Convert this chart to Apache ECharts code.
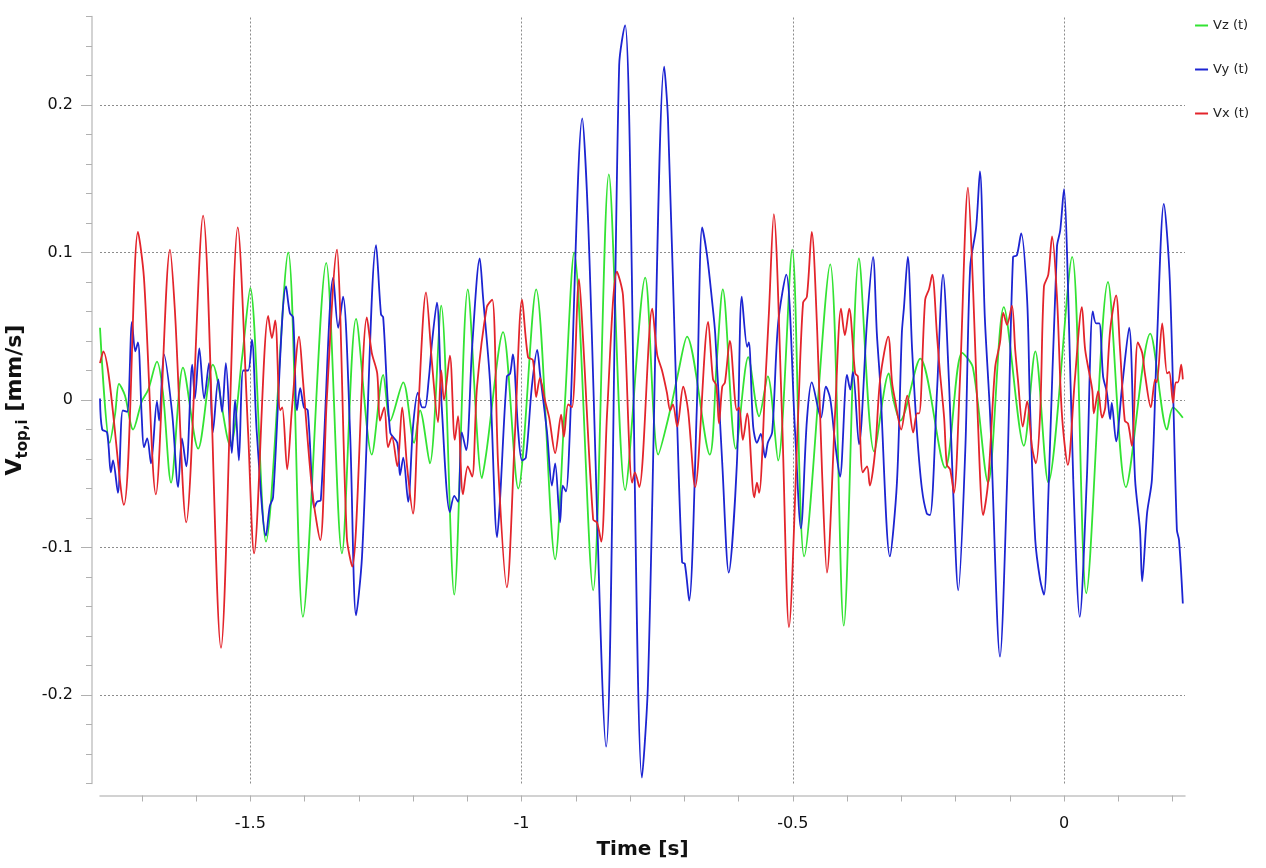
<!DOCTYPE html>
<html>
<head>
<meta charset="utf-8">
<title>Vtop,i</title>
<script src="https://cdn.jsdelivr.net/npm/echarts@6.0.0/dist/echarts.min.js"></script>
<style>
html,body{margin:0;padding:0;background:#fff;}
#chart{width:1266px;height:868px;}
</style>
</head>
<body>
<div id="chart"></div>
<script>
// [time s, velocity mm/s]
var vz = [[-1.777,0.049],[-1.759,-0.029],[-1.749,-0.009],[-1.742,0.011],[-1.731,0.003],[-1.716,-0.020],[-1.700,-0.001],[-1.688,0.007],[-1.672,0.026],[-1.661,0.005],[-1.646,-0.056],[-1.624,0.022],[-1.596,-0.033],[-1.569,0.024],[-1.537,-0.031],[-1.515,0.029],[-1.500,0.076],[-1.471,-0.096],[-1.430,0.100],[-1.403,-0.147],[-1.360,0.093],[-1.331,-0.104],[-1.305,0.055],[-1.276,-0.037],[-1.255,0.017],[-1.242,-0.014],[-1.218,0.012],[-1.198,-0.029],[-1.187,-0.007],[-1.169,-0.043],[-1.148,0.064],[-1.124,-0.132],[-1.099,0.075],[-1.073,-0.053],[-1.065,-0.036],[-1.034,0.046],[-1.006,-0.060],[-0.973,0.075],[-0.938,-0.108],[-0.920,-0.002],[-0.903,0.100],[-0.868,-0.129],[-0.839,0.153],[-0.809,-0.061],[-0.772,0.083],[-0.748,-0.037],[-0.726,-0.007],[-0.712,0.017],[-0.695,0.043],[-0.653,-0.037],[-0.640,0.027],[-0.629,0.075],[-0.605,-0.033],[-0.582,0.029],[-0.562,-0.011],[-0.546,0.016],[-0.527,-0.041],[-0.501,0.102],[-0.479,-0.106],[-0.431,0.092],[-0.406,-0.153],[-0.378,0.096],[-0.350,-0.035],[-0.323,0.018],[-0.315,0.001],[-0.302,-0.014],[-0.265,0.028],[-0.219,-0.046],[-0.188,0.032],[-0.168,0.022],[-0.140,-0.056],[-0.111,0.063],[-0.074,-0.031],[-0.053,0.033],[-0.029,-0.056],[0.015,0.097],[0.041,-0.131],[0.081,0.080],[0.114,-0.059],[0.159,0.045],[0.190,-0.020],[0.201,-0.005],[0.219,-0.012]];

var vy = [[-1.777,0.001],[-1.773,-0.020],[-1.764,-0.022],[-1.757,-0.049],[-1.753,-0.041],[-1.744,-0.063],[-1.735,-0.007],[-1.727,-0.008],[-1.718,0.053],[-1.712,0.033],[-1.707,0.039],[-1.700,-0.012],[-1.696,-0.032],[-1.690,-0.026],[-1.683,-0.043],[-1.672,-0.001],[-1.668,-0.014],[-1.659,0.031],[-1.644,-0.009],[-1.633,-0.059],[-1.626,-0.026],[-1.618,-0.045],[-1.607,0.024],[-1.602,0.001],[-1.594,0.035],[-1.585,0.001],[-1.576,0.025],[-1.569,-0.022],[-1.559,0.014],[-1.552,-0.008],[-1.545,0.025],[-1.534,-0.036],[-1.528,0],[-1.521,-0.041],[-1.513,0.020],[-1.504,0.020],[-1.497,0.041],[-1.488,-0.022],[-1.471,-0.092],[-1.464,-0.072],[-1.458,-0.066],[-1.434,0.077],[-1.427,0.059],[-1.421,0.056],[-1.414,-0.007],[-1.408,0.008],[-1.401,-0.005],[-1.394,-0.007],[-1.382,-0.073],[-1.377,-0.069],[-1.370,-0.068],[-1.347,0.083],[-1.338,0.049],[-1.329,0.070],[-1.316,-0.022],[-1.305,-0.146],[-1.294,-0.106],[-1.268,0.105],[-1.259,0.058],[-1.255,0.056],[-1.242,-0.022],[-1.229,-0.029],[-1.224,-0.051],[-1.218,-0.039],[-1.209,-0.069],[-1.200,-0.018],[-1.191,0.005],[-1.183,-0.005],[-1.178,-0.005],[-1.171,0.014],[-1.165,0.039],[-1.156,0.066],[-1.147,-0.005],[-1.132,-0.076],[-1.124,-0.065],[-1.117,-0.069],[-1.110,-0.022],[-1.102,-0.034],[-1.091,0.036],[-1.077,0.096],[-1.071,0.070],[-1.058,0.012],[-1.045,-0.093],[-1.040,-0.070],[-1.027,0.016],[-1.021,0.018],[-1.016,0.031],[-1.006,-0.022],[-0.999,-0.041],[-0.992,-0.039],[-0.981,0.009],[-0.971,0.034],[-0.966,0.018],[-0.953,-0.022],[-0.944,-0.058],[-0.938,-0.043],[-0.929,-0.083],[-0.924,-0.058],[-0.918,-0.062],[-0.912,-0.031],[-0.888,0.191],[-0.877,0.119],[-0.844,-0.235],[-0.820,0.227],[-0.809,0.254],[-0.802,0.200],[-0.778,-0.256],[-0.767,-0.193],[-0.737,0.226],[-0.730,0.190],[-0.713,-0.017],[-0.704,-0.110],[-0.699,-0.111],[-0.691,-0.136],[-0.677,-0.007],[-0.667,0.117],[-0.658,0.098],[-0.649,0.068],[-0.643,0.045],[-0.630,-0.043],[-0.618,-0.117],[-0.603,-0.043],[-0.594,0.070],[-0.584,0.036],[-0.581,0.039],[-0.573,-0.018],[-0.566,-0.029],[-0.559,-0.023],[-0.551,-0.039],[-0.546,-0.029],[-0.538,-0.022],[-0.527,0.052],[-0.512,0.085],[-0.496,-0.020],[-0.485,-0.087],[-0.474,-0.014],[-0.465,0.012],[-0.448,-0.012],[-0.439,0.009],[-0.431,0.001],[-0.422,-0.029],[-0.413,-0.052],[-0.400,0.017],[-0.394,0.007],[-0.389,0.019],[-0.378,-0.030],[-0.363,0.054],[-0.352,0.097],[-0.345,0.045],[-0.339,0.012],[-0.321,-0.106],[-0.308,-0.056],[-0.299,0.045],[-0.295,0.063],[-0.288,0.097],[-0.280,0.034],[-0.271,-0.022],[-0.262,-0.060],[-0.253,-0.077],[-0.247,-0.078],[-0.234,0.007],[-0.223,0.085],[-0.212,0.012],[-0.205,-0.056],[-0.195,-0.129],[-0.182,-0.034],[-0.173,0.090],[-0.162,0.117],[-0.155,0.155],[-0.146,0.056],[-0.136,-0.012],[-0.118,-0.174],[-0.105,-0.056],[-0.094,0.097],[-0.087,0.098],[-0.079,0.113],[-0.068,0.068],[-0.063,0.000],[-0.053,-0.095],[-0.044,-0.122],[-0.037,-0.132],[-0.029,-0.066],[-0.013,0.104],[-0.007,0.115],[0,0.143],[0.007,0.081],[0.017,-0.054],[0.029,-0.147],[0.042,-0.054],[0.053,0.060],[0.059,0.052],[0.065,0.052],[0.072,0.016],[0.079,0.005],[0.085,-0.013],[0.088,-0.002],[0.096,-0.028],[0.107,0.009],[0.120,0.049],[0.131,-0.054],[0.140,-0.088],[0.144,-0.123],[0.153,-0.077],[0.162,-0.054],[0.171,0.036],[0.184,0.133],[0.195,0.081],[0.208,-0.088],[0.212,-0.095],[0.219,-0.138]];

var vx = [[-1.777,0.025],[-1.771,0.033],[-1.733,-0.071],[-1.707,0.114],[-1.696,0.083],[-1.674,-0.064],[-1.648,0.102],[-1.639,0.061],[-1.618,-0.083],[-1.587,0.125],[-1.554,-0.168],[-1.523,0.117],[-1.504,-0.022],[-1.493,-0.104],[-1.467,0.057],[-1.460,0.042],[-1.454,0.054],[-1.445,-0.007],[-1.441,-0.005],[-1.432,-0.047],[-1.423,-0.005],[-1.410,0.043],[-1.403,0.014],[-1.386,-0.061],[-1.371,-0.095],[-1.359,0],[-1.340,0.102],[-1.335,0.068],[-1.322,-0.093],[-1.312,-0.113],[-1.285,0.056],[-1.276,0.032],[-1.266,0.018],[-1.261,-0.014],[-1.253,-0.005],[-1.246,-0.032],[-1.239,-0.025],[-1.229,-0.045],[-1.220,-0.005],[-1.211,-0.045],[-1.200,-0.077],[-1.191,-0.012],[-1.176,0.073],[-1.165,0.025],[-1.154,-0.015],[-1.148,0.020],[-1.143,0],[-1.132,0.030],[-1.123,-0.027],[-1.117,-0.011],[-1.108,-0.064],[-1.099,-0.045],[-1.091,-0.052],[-1.082,0.009],[-1.064,0.063],[-1.054,0.068],[-1.043,-0.045],[-1.027,-0.127],[-1.012,-0.022],[-0.999,0.068],[-0.988,0.029],[-0.979,0.027],[-0.973,0.002],[-0.966,0.015],[-0.957,0],[-0.949,-0.012],[-0.938,-0.036],[-0.927,-0.010],[-0.922,-0.025],[-0.914,-0.003],[-0.907,-0.005],[-0.894,0.082],[-0.887,0.044],[-0.868,-0.081],[-0.861,-0.083],[-0.853,-0.096],[-0.842,-0.007],[-0.824,0.087],[-0.813,0.071],[-0.796,-0.056],[-0.791,-0.049],[-0.783,-0.059],[-0.759,0.062],[-0.750,0.031],[-0.741,0.020],[-0.732,0.005],[-0.726,-0.007],[-0.721,-0.003],[-0.713,-0.018],[-0.702,0.009],[-0.693,-0.007],[-0.680,-0.059],[-0.656,0.053],[-0.647,0.014],[-0.641,0.010],[-0.636,-0.016],[-0.630,0.009],[-0.625,0.012],[-0.616,0.040],[-0.603,-0.007],[-0.599,-0.005],[-0.592,-0.027],[-0.584,-0.009],[-0.571,-0.066],[-0.566,-0.056],[-0.562,-0.063],[-0.551,0.009],[-0.544,0.059],[-0.535,0.126],[-0.520,-0.009],[-0.507,-0.154],[-0.490,-0.009],[-0.481,0.066],[-0.474,0.070],[-0.465,0.114],[-0.455,0.047],[-0.446,-0.049],[-0.437,-0.117],[-0.422,-0.009],[-0.411,0.062],[-0.404,0.044],[-0.396,0.062],[-0.385,0.018],[-0.380,0.016],[-0.371,-0.049],[-0.363,-0.045],[-0.358,-0.058],[-0.348,-0.034],[-0.339,0.014],[-0.324,0.043],[-0.317,0.012],[-0.312,0.001],[-0.300,-0.020],[-0.289,0.003],[-0.278,-0.022],[-0.271,-0.009],[-0.267,-0.009],[-0.256,0.068],[-0.249,0.075],[-0.243,0.085],[-0.234,0.043],[-0.229,0.020],[-0.221,-0.012],[-0.216,-0.044],[-0.210,-0.047],[-0.203,-0.063],[-0.192,0.012],[-0.177,0.144],[-0.168,0.079],[-0.159,-0.012],[-0.149,-0.078],[-0.140,-0.056],[-0.127,0.022],[-0.118,0.039],[-0.112,0.059],[-0.105,0.051],[-0.096,0.064],[-0.090,0.034],[-0.085,0.014],[-0.076,-0.018],[-0.068,-0.001],[-0.059,-0.032],[-0.052,-0.043],[-0.044,-0.009],[-0.037,0.077],[-0.029,0.085],[-0.022,0.111],[-0.013,0.070],[-0.004,-0.009],[0.007,-0.044],[0.020,0.014],[0.033,0.063],[0.039,0.034],[0.052,0.007],[0.055,-0.009],[0.063,0.006],[0.070,-0.012],[0.076,-0.005],[0.085,0.047],[0.096,0.071],[0.103,0.036],[0.112,-0.014],[0.118,-0.016],[0.125,-0.031],[0.136,0.039],[0.144,0.032],[0.149,0.018],[0.160,-0.005],[0.168,0.014],[0.171,0.012],[0.181,0.052],[0.190,0.018],[0.194,0.019],[0.201,-0.002],[0.206,0.012],[0.210,0.012],[0.216,0.024],[0.219,0.014]];

var seriesNames = ['Vz (t)', 'Vy (t)', 'Vx (t)'];
var seriesColors = ['#33e333', '#1c24d2', '#e3242b'];

var xMin = -1.777, xMax = 0.223;
var yMin = -0.26, yMax = 0.26;
var xTicks = [-1.7,-1.6,-1.5,-1.4,-1.3,-1.2,-1.1,-1,-0.9,-0.8,-0.7,-0.6,-0.5,-0.4,-0.3,-0.2,-0.1,0,0.1,0.2];
var xLabels = [-1.5,-1,-0.5,0];
var yTicks = [-0.26,-0.24,-0.22,-0.2,-0.18,-0.16,-0.14,-0.12,-0.1,-0.08,-0.06,-0.04,-0.02,0,0.02,0.04,0.06,0.08,0.1,0.12,0.14,0.16,0.18,0.2,0.22,0.24,0.26];
var yLabels = [-0.2,-0.1,0,0.1,0.2];

var font = 'DejaVu Sans';
var axisGrey = '#c4c4c4';
var chart = echarts.init(document.getElementById('chart'));

var gridMarks = [];
yLabels.forEach(function (v) { gridMarks.push({yAxis: v}); });
xLabels.forEach(function (v) { gridMarks.push({xAxis: v}); });

var lines = [vz, vy, vx].map(function (d, i) {
    var s = {
        name: seriesNames[i],
        type: 'line',
        data: d,
        showSymbol: false,
        smooth: 0.3,
        z: 3,
        lineStyle: {color: seriesColors[i], width: 1.8},
        itemStyle: {color: seriesColors[i]}
    };
    if (i === 0) {
        s.markLine = {
            silent: true,
            symbol: 'none',
            z: 1,
            label: {show: false},
            lineStyle: {color: '#8c8c8c', type: [2, 2], width: 1},
            data: gridMarks
        };
    }
    return s;
});

function tickLabel(v) {
    return String(Math.round(v * 10) / 10);
}

var option = {
    animation: false,
    backgroundColor: '#fff',
    textStyle: {fontFamily: font},
    legend: {
        orient: 'vertical',
        right: 12,
        top: 14,
        itemGap: 31,
        itemWidth: 13,
        itemHeight: 2,
        icon: 'rect',
        textStyle: {fontFamily: font, fontSize: 13, color: '#222'},
        data: seriesNames
    },
    grid: {left: 100, right: 81, top: 16.5, bottom: 84.5, containLabel: false, outerBoundsMode: 'none'},
    xAxis: {
        type: 'value',
        min: xMin,
        max: xMax,
        offset: 12,
        name: 'Time [s]',
        nameLocation: 'middle',
        nameGap: 44,
        nameTextStyle: {fontFamily: font, fontSize: 20, fontWeight: 'bold', color: '#111'},
        axisLine: {show: true, onZero: false, lineStyle: {color: axisGrey, width: 1.5}},
        axisTick: {show: true, length: 6, lineStyle: {color: '#b0b0b0'}, customValues: xTicks},
        axisLabel: {
            customValues: xLabels,
            margin: 20,
            fontFamily: font,
            fontSize: 16,
            color: '#111',
            formatter: tickLabel
        },
        splitLine: {show: false}
    },
    yAxis: [{
        type: 'value',
        min: yMin,
        max: yMax,
        offset: 8,
        position: 'left',
        name: '{m|V}{s|top,i}{m| [mm/s]}',
        nameLocation: 'middle',
        nameGap: 52,
        nameTextStyle: {
            color: '#111',
            rich: {
                m: {fontFamily: font, fontSize: 22, fontWeight: 'bold', color: '#111', verticalAlign: 'bottom', padding: [0, 0, 5, 0]},
                s: {fontFamily: font, fontSize: 15, fontWeight: 'bold', color: '#111', verticalAlign: 'bottom'}
            }
        },
        axisLine: {show: true, onZero: false, lineStyle: {color: axisGrey, width: 1.5}},
        axisTick: {show: true, length: 11, lineStyle: {color: '#b0b0b0'}, customValues: yLabels},
        axisLabel: {
            customValues: yLabels,
            margin: 19,
            fontFamily: font,
            fontSize: 16,
            color: '#111',
            formatter: tickLabel
        },
        splitLine: {show: false}
    }, {
        // minor ticks every 0.02
        type: 'value',
        min: yMin,
        max: yMax,
        offset: 8,
        position: 'left',
        axisLine: {show: false, onZero: false},
        axisTick: {show: true, length: 6, lineStyle: {color: '#b0b0b0'}, customValues: yTicks},
        axisLabel: {show: false},
        splitLine: {show: false}
    }],
    series: lines
};

chart.setOption(option);
</script>
</body>
</html>
